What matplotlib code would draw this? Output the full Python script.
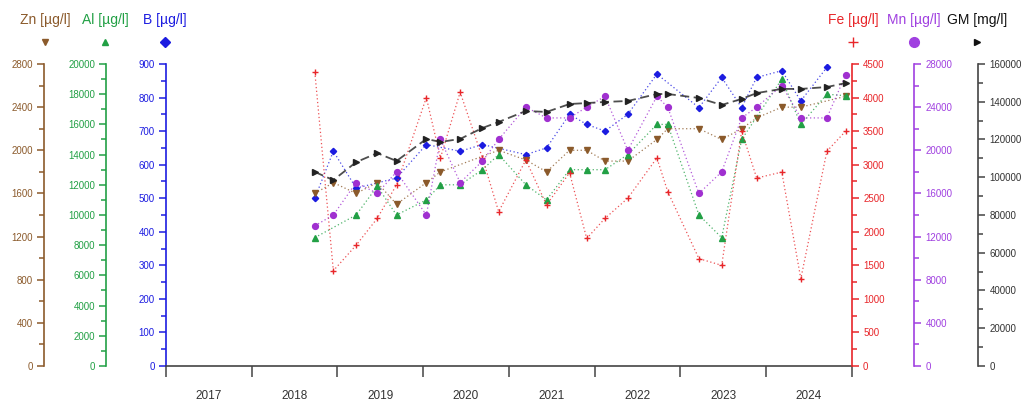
import matplotlib
matplotlib.use('Agg')
import matplotlib.pyplot as plt
import matplotlib.dates as mdates
from matplotlib.lines import Line2D
from matplotlib.ticker import MultipleLocator, NullFormatter
import pandas as pd

plt.rcParams['font.family'] = ['Liberation Sans', 'DejaVu Sans']

# sampling dates
dates = pd.to_datetime([
    '2018-09-27', '2018-12-15', '2019-03-22', '2019-06-20', '2019-09-10',
    '2020-01-15', '2020-03-15', '2020-06-07', '2020-09-10', '2020-11-18',
    '2021-03-14', '2021-06-10', '2021-09-16', '2021-11-28', '2022-02-14',
    '2022-05-22', '2022-09-23', '2022-11-08', '2023-03-21', '2023-06-26',
    '2023-09-19', '2023-11-22', '2024-03-08', '2024-05-28', '2024-09-16',
    '2024-12-05'])

# measured values (None = not sampled)
zn = [1600, 1700, 1600, 1700, 1500, 1700, 1800, None, None, 2000,
      1910, 1800, 2000, 2000, 1900, 1900, 2100, 2200, 2200, 2100,
      2200, 2300, 2400, 2400, None, 2500]
al = [8500, None, 10000, 11900, 10000, 11000, 12000, 12000, 13000, 14000,
      12000, 11000, 13000, 13000, 13000, 14000, 16000, 16000, 10000, 8500,
      15000, None, 19000, 16000, 18000, 17900]
b = [500, 640, 530, None, 560, 660, None, 640, 660, None,
     630, 650, 750, 720, 700, 750, 870, None, 770, 860,
     770, 860, 880, 790, 890, None]
fe = [4380, 1420, 1800, 2200, 2700, 4000, 3100, 4080, 3100, 2300,
      3070, 2400, 2880, 1900, 2200, 2500, 3100, 2600, 1600, 1500,
      3500, 2800, 2890, 1300, 3200, 3500]
mn = [13000, 14000, 17000, 16000, 18000, 14000, 21000, 17000, 19000, 21000,
      24000, 23000, 23000, 24000, 25000, 20000, 25000, 24000, 16000, 18000,
      23000, 24000, 26000, 23000, 23000, 27000]
gm = [102800, 98500, 108000, 112800, 108600, 120300, 118700, 120300, 126100, 129300,
      135100, 134600, 138800, 139300, 139900, 140400, 144100, 144100, 142000, 138300,
      141500, 144600, 146800, 146800, 147800, 149900]


def valid(vals):
    d = [t for t, v in zip(dates, vals) if v is not None]
    v = [v for v in vals if v is not None]
    return d, v


def style_axis(a, side, offset, color, ymax, major, minor):
    for s in a.spines.values():
        s.set_visible(False)
    sp = a.spines[side]
    sp.set_visible(True)
    sp.set_position(('outward', offset))
    sp.set_color(color)
    sp.set_linewidth(1.2)
    if side == 'left':
        a.yaxis.tick_left()
    else:
        a.yaxis.tick_right()
    a.set_ylim(0, ymax)
    a.yaxis.set_major_locator(MultipleLocator(major))
    a.yaxis.set_minor_locator(MultipleLocator(minor))
    a.tick_params(axis='y', which='major', length=5, width=1.1, color=color,
                  labelcolor=color, labelsize=7, pad=3)
    a.tick_params(axis='y', which='minor', length=3.5, width=1.1, color=color)


def draw(a, vals, color, marker, ms, ls=(0, (1, 2)), lw=0.9):
    d, v = valid(vals)
    a.plot(d, v, linestyle=ls, color=color, lw=lw, alpha=0.8)
    a.plot(d, v, linestyle='none', color=color, marker=marker, ms=ms)


fig = plt.figure(figsize=(10.27, 4.01), dpi=100)
ax = fig.add_axes([0.1616, 0.0873, 0.6680, 0.7531])

c_zn = '#8B5A2B'
c_al = '#22A045'
c_b = '#1C1CE0'
c_fe = '#E8262A'
c_mn = '#A030D0'
c_gm = '#222222'

# host axis carries B
style_axis(ax, 'left', 0, c_b, 900, 100, 50)
ax.spines['bottom'].set_visible(True)
ax.spines['bottom'].set_color('#444444')
ax.spines['bottom'].set_linewidth(1.2)

ax_zn = ax.twinx()
ax_al = ax.twinx()
ax_fe = ax.twinx()
ax_mn = ax.twinx()
ax_gm = ax.twinx()
style_axis(ax_zn, 'left', 88, c_zn, 2800, 400, 200)
style_axis(ax_al, 'left', 43, c_al, 20000, 2000, 1000)
style_axis(ax_fe, 'right', 0, c_fe, 4500, 500, 250)
style_axis(ax_mn, 'right', 45, '#A040E0', 28000, 4000, 2000)
style_axis(ax_gm, 'right', 91, c_gm, 160000, 20000, 10000)
ax_gm.spines['right'].set_color('#444444')
ax_gm.tick_params(axis='y', which='both', color='#444444', labelcolor='#333333')

draw(ax_zn, zn, c_zn, 'v', 3.8)
draw(ax_al, al, c_al, '^', 3.8)
draw(ax, b, c_b, 'D', 3.2)
draw(ax_fe, fe, c_fe, '+', 4.5)
draw(ax_mn, mn, c_mn, 'o', 4.2)
draw(ax_gm, gm, c_gm, '>', 4.2, ls=(0, (5, 2.5)), lw=1.3)

# x axis: year boundaries as ticks, year names centred between
ax.set_xlim(pd.Timestamp('2017-01-01'), pd.Timestamp('2025-01-01'))
ax.xaxis.set_major_locator(mdates.YearLocator())
ax.xaxis.set_major_formatter(NullFormatter())
ax.xaxis.set_minor_locator(mdates.MonthLocator(bymonth=7, bymonthday=2))
ax.xaxis.set_minor_formatter(mdates.DateFormatter('%Y'))
ax.tick_params(axis='x', which='major', length=8, width=1.1, color='#444444')
ax.tick_params(axis='x', which='minor', length=0, pad=17, labelsize=8.5,
               labelcolor='#333333')

# header labels with marker symbols
heads = [('Zn [µg/l]', c_zn, 'v', 45), ('Al [µg/l]', c_al, '^', 105),
         ('B [µg/l]', c_b, 'D', 165), ('Fe [µg/l]', c_fe, '+', 853),
         ('Mn [µg/l]', '#A040E0', 'o', 914), ('GM [mg/l]', '#111111', '>', 977)]
for label, col, mk, xp in heads:
    fig.text(xp / 1027, 1 - 20 / 401, label, color=col, fontsize=10,
             ha='center', va='center')
    ms = 7 if mk in ('o', '+') else 5
    fig.add_artist(Line2D([xp / 1027], [1 - 42 / 401], transform=fig.transFigure,
                          marker=mk, color=col, ms=ms, linestyle='none'))

fig.savefig('out.png', dpi=100)
